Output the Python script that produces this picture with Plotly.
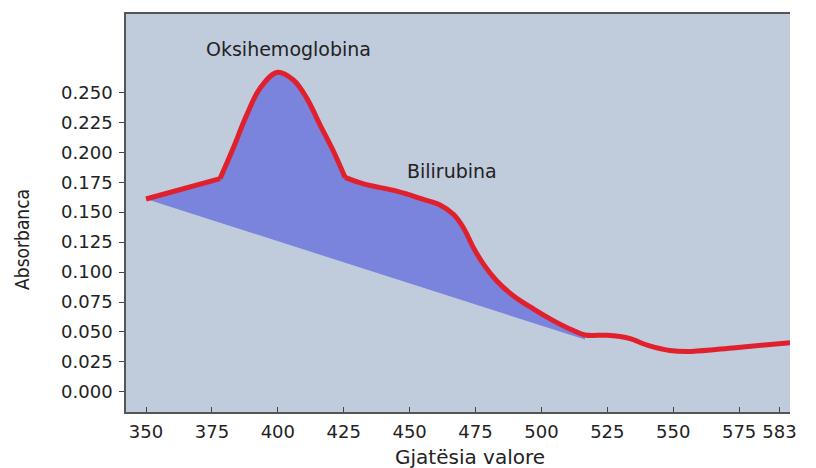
import plotly.graph_objects as go

# Spectrum (wavelength nm, absorbance)
wavelength = [350.0, 378.1, 383.1, 388.2, 393.2, 399.6, 405.9, 411.0, 416.0, 421.1, 425.5,
              432.5, 445.1, 455.2, 461.5, 466.6, 470.4, 474.2, 478.0, 483.0, 489.3,
              496.9, 504.5, 512.1, 516.5, 524.8, 529.8, 533.7, 540.4, 548.7, 557.0,
              573.6, 594.3]
absorbance = [0.161, 0.178, 0.2035, 0.2312, 0.2533, 0.2666, 0.2603, 0.2450, 0.2229, 0.2008, 0.1790,
              0.1736, 0.1675, 0.1606, 0.1560, 0.1482, 0.1370, 0.1204, 0.1066, 0.0928, 0.0803,
              0.0693, 0.0595, 0.0512, 0.0475, 0.0473, 0.0462, 0.0444, 0.0388, 0.0346, 0.0338,
              0.0369, 0.0410]
kink_idx = [1, 10]          # sharp corners of the curve
fill_end_idx = 24           # last curve point of the shaded area
baseline_x = [516.5, 350.0]
baseline_y = [0.0437, 0.161]

x_tickvals = [350, 375, 400, 425, 450, 475, 500, 525, 550, 575, 590.3]
x_ticktext = ["350", "375", "400", "425", "450", "475", "500", "525", "550", "575", "583"]
y_tickvals = [0.000, 0.025, 0.050, 0.075, 0.100, 0.125, 0.150, 0.175, 0.200, 0.225, 0.250]

peak_labels = ["Oksihemoglobina", "Bilirubina"]
peak_label_x = [404.0, 466.0]
peak_label_y = [0.2865, 0.1841]

RED = "#E0202C"
FILL = "#7A84DC"
BG = "#C0CCDC"
TXT = "#222222"
FONT = "DejaVu Sans, sans-serif"

fig = go.Figure()

# shaded area between curve and baseline
fx = wavelength[:fill_end_idx + 1] + baseline_x
fy = absorbance[:fill_end_idx + 1] + baseline_y
fig.add_trace(go.Scatter(x=fx, y=fy, fill="toself", fillcolor=FILL, mode="lines",
                         line=dict(width=0, color=FILL), hoverinfo="skip", showlegend=False))

# curve segments (straight first segment, smooth remainder with kinks)
segs = [(0, kink_idx[0], "linear"), (kink_idx[0], kink_idx[1], "spline"),
        (kink_idx[1], len(wavelength) - 1, "spline")]
for a, b, shape in segs:
    fig.add_trace(go.Scatter(x=wavelength[a:b + 1], y=absorbance[a:b + 1], mode="lines",
                             line=dict(color=RED, width=5, shape=shape, smoothing=1.0),
                             showlegend=False))

for t, x, y in zip(peak_labels, peak_label_x, peak_label_y):
    fig.add_annotation(x=x, y=y, text=t, showarrow=False,
                       font=dict(family=FONT, size=19, color=TXT))

fig.add_annotation(xref="paper", yref="paper", x=0.518, y=-0.1125, text="Gjatësia valore",
                   xanchor="center", yanchor="middle", showarrow=False,
                   font=dict(family=FONT, size=20, color=TXT))
fig.add_annotation(xref="paper", yref="paper", x=-0.1566, y=0.4325, text="Absorbanca",
                   xanchor="center", yanchor="middle", textangle=-90, showarrow=False,
                   font=dict(family="Liberation Sans Narrow, DejaVu Sans Condensed, sans-serif",
                             size=19, color=TXT))

# page body has an 8px margin, so the figure is sized/margined to compensate
fig.update_layout(
    width=808, height=460,
    margin=dict(l=118, r=26, t=4, b=56),
    paper_bgcolor="white", plot_bgcolor=BG,
    xaxis=dict(range=[342.4, 594.3], tickvals=x_tickvals, ticktext=x_ticktext,
               showgrid=False, zeroline=False, showline=True, linecolor="#555555",
               linewidth=1.5, mirror=True, ticks="inside", ticklen=5, tickcolor="#444444",
               ticklabelstandoff=3,
               tickfont=dict(family=FONT, size=18, color=TXT)),
    yaxis=dict(range=[-0.0168, 0.3154], tickvals=y_tickvals, tickformat=".3f",
               showgrid=False, zeroline=False, showline=True, linecolor="#555555",
               linewidth=1.5, ticks="outside", ticklen=5, tickcolor="#444444",
               ticklabelstandoff=3,
               tickfont=dict(family=FONT, size=18, color=TXT)),
)

fig.write_html("out.html")
